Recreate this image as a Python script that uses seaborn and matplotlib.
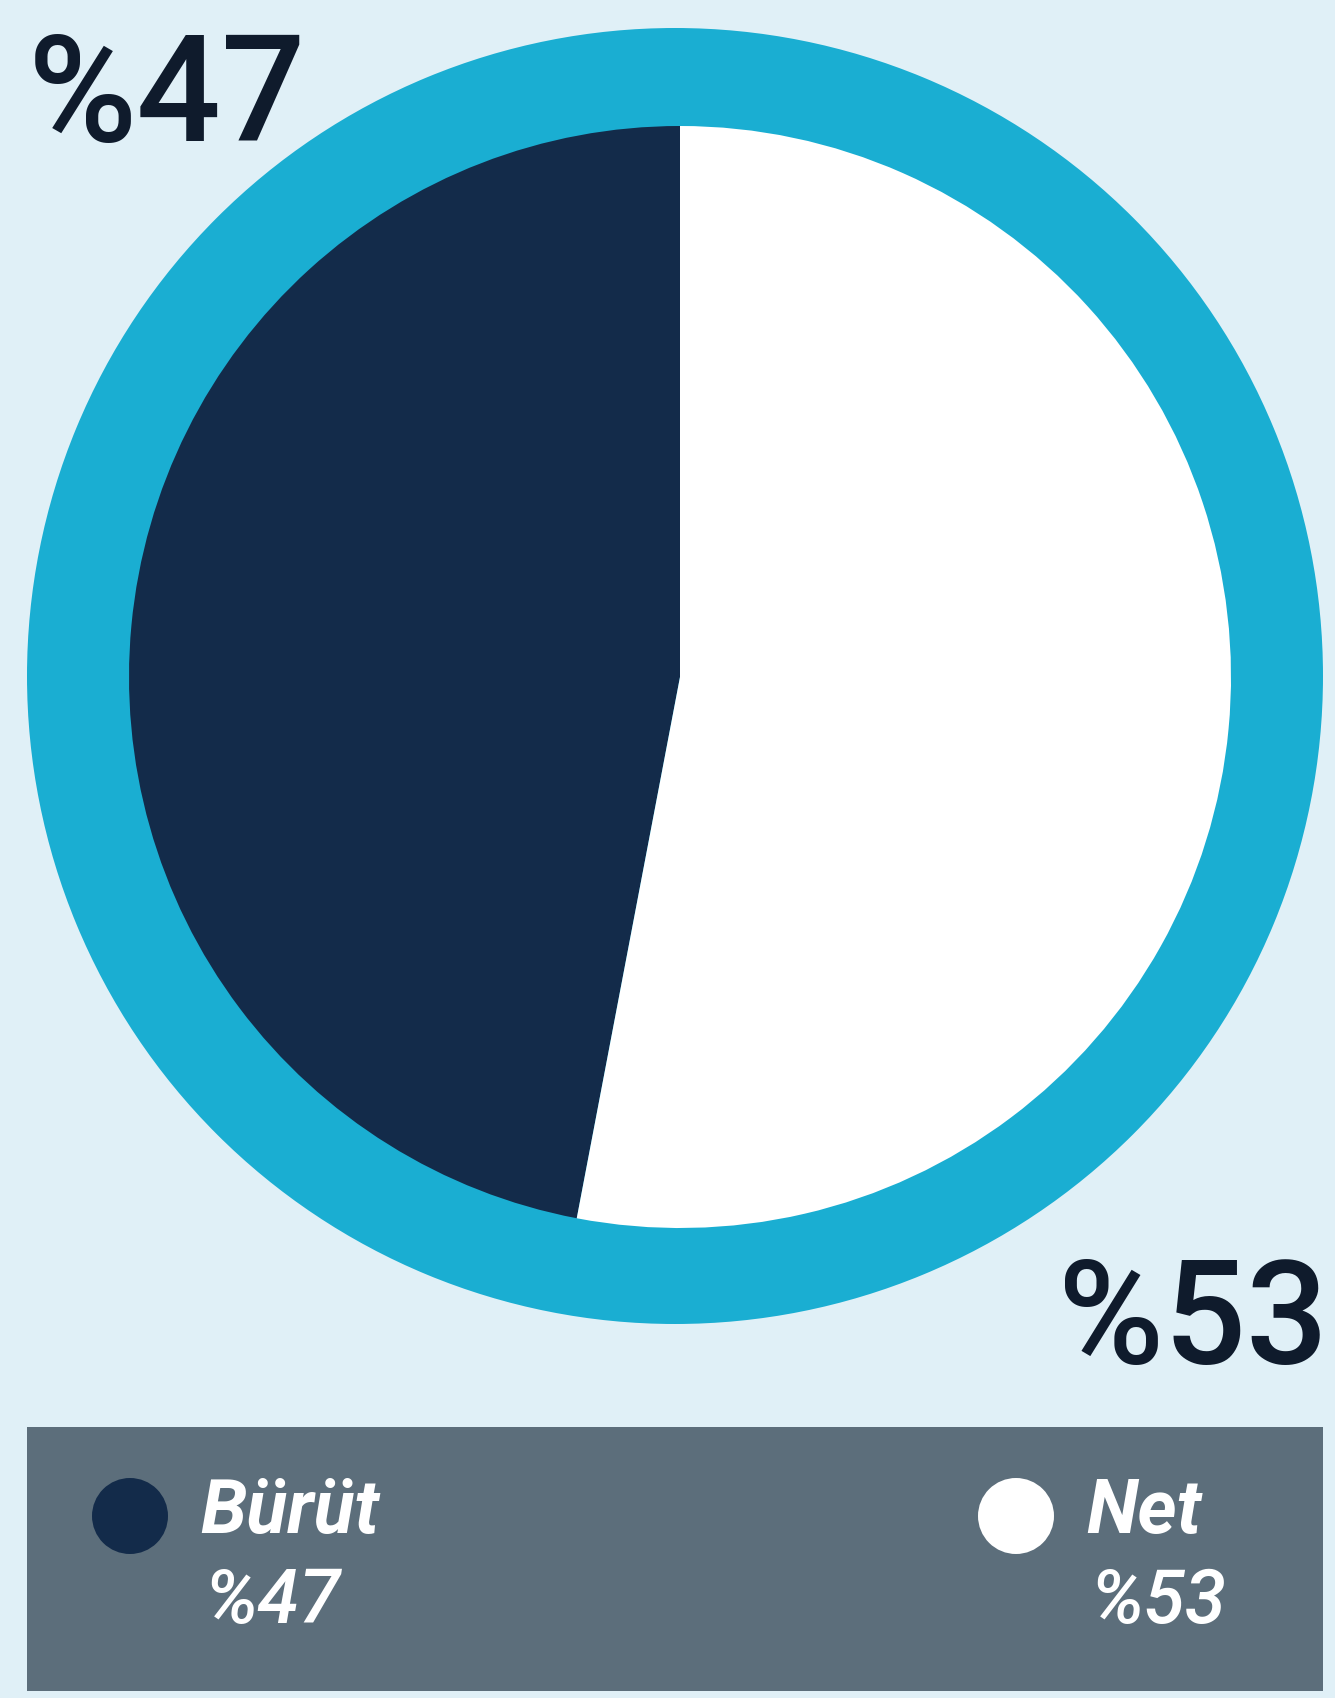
import matplotlib
matplotlib.use("Agg")
import matplotlib.pyplot as plt
import matplotlib.patches as mpatches
import seaborn as sns

# Shares of the two categories (percent)
labels = ["Bürüt", "Net"]
values = [47, 53]
slice_colors = ["#132b4a", "#ffffff"]

# Label strings
pct_labels = ["%47", "%53"]

sns.set_theme(style="white")
plt.rcParams['font.family'] = ['Roboto', 'DejaVu Sans']

W, H = 1335, 1698
fig = plt.figure(figsize=(W / 100, H / 100), dpi=100)
fig.patch.set_facecolor("#e0f0f7")
ax = fig.add_axes([0, 0, 1, 1])
ax.set_facecolor("#e0f0f7")

# outer ring
ax.pie([1], colors=["#1aaed2"], radius=648, center=(675, H - 676),
       wedgeprops=dict(linewidth=0))
# main pie
ax.pie(values, colors=slice_colors, radius=551, center=(680, H - 677),
       startangle=90, counterclock=True, wedgeprops=dict(linewidth=0))

ax.set_xlim(0, W)
ax.set_ylim(0, H)
ax.set_aspect("equal")
ax.axis("off")

# big percentage labels
ax.text(28, H - 141, pct_labels[0], fontsize=107, color="#0f1b2c",
        ha="left", va="baseline", fontweight=500)
ax.text(1328, H - 1364, pct_labels[1], fontsize=104, color="#0f1b2c",
        ha="right", va="baseline", fontweight=500)

# legend panel
ax.add_patch(mpatches.Rectangle((27, H - 1691), 1296, 264,
                                facecolor="#5c6e7b", edgecolor="none"))

dot_x = [130, 1016]
name_x = [200, 1086]
pct_x = [204, 1090]
for i in range(len(labels)):
    ax.scatter([dot_x[i]], [H - 1516], s=(38 * 0.72 * 2) ** 2,
               color=slice_colors[i], edgecolor="none", zorder=3)
    ax.text(name_x[i], H - 1512, labels[i], fontsize=54, color="white",
            fontweight="bold", fontstyle="italic", ha="left", va="center")
    ax.text(pct_x[i], H - 1602, pct_labels[i], fontsize=54, color="white",
            fontweight=500, fontstyle="italic", ha="left", va="center")

fig.savefig("out.png", dpi=100, facecolor=fig.get_facecolor())
